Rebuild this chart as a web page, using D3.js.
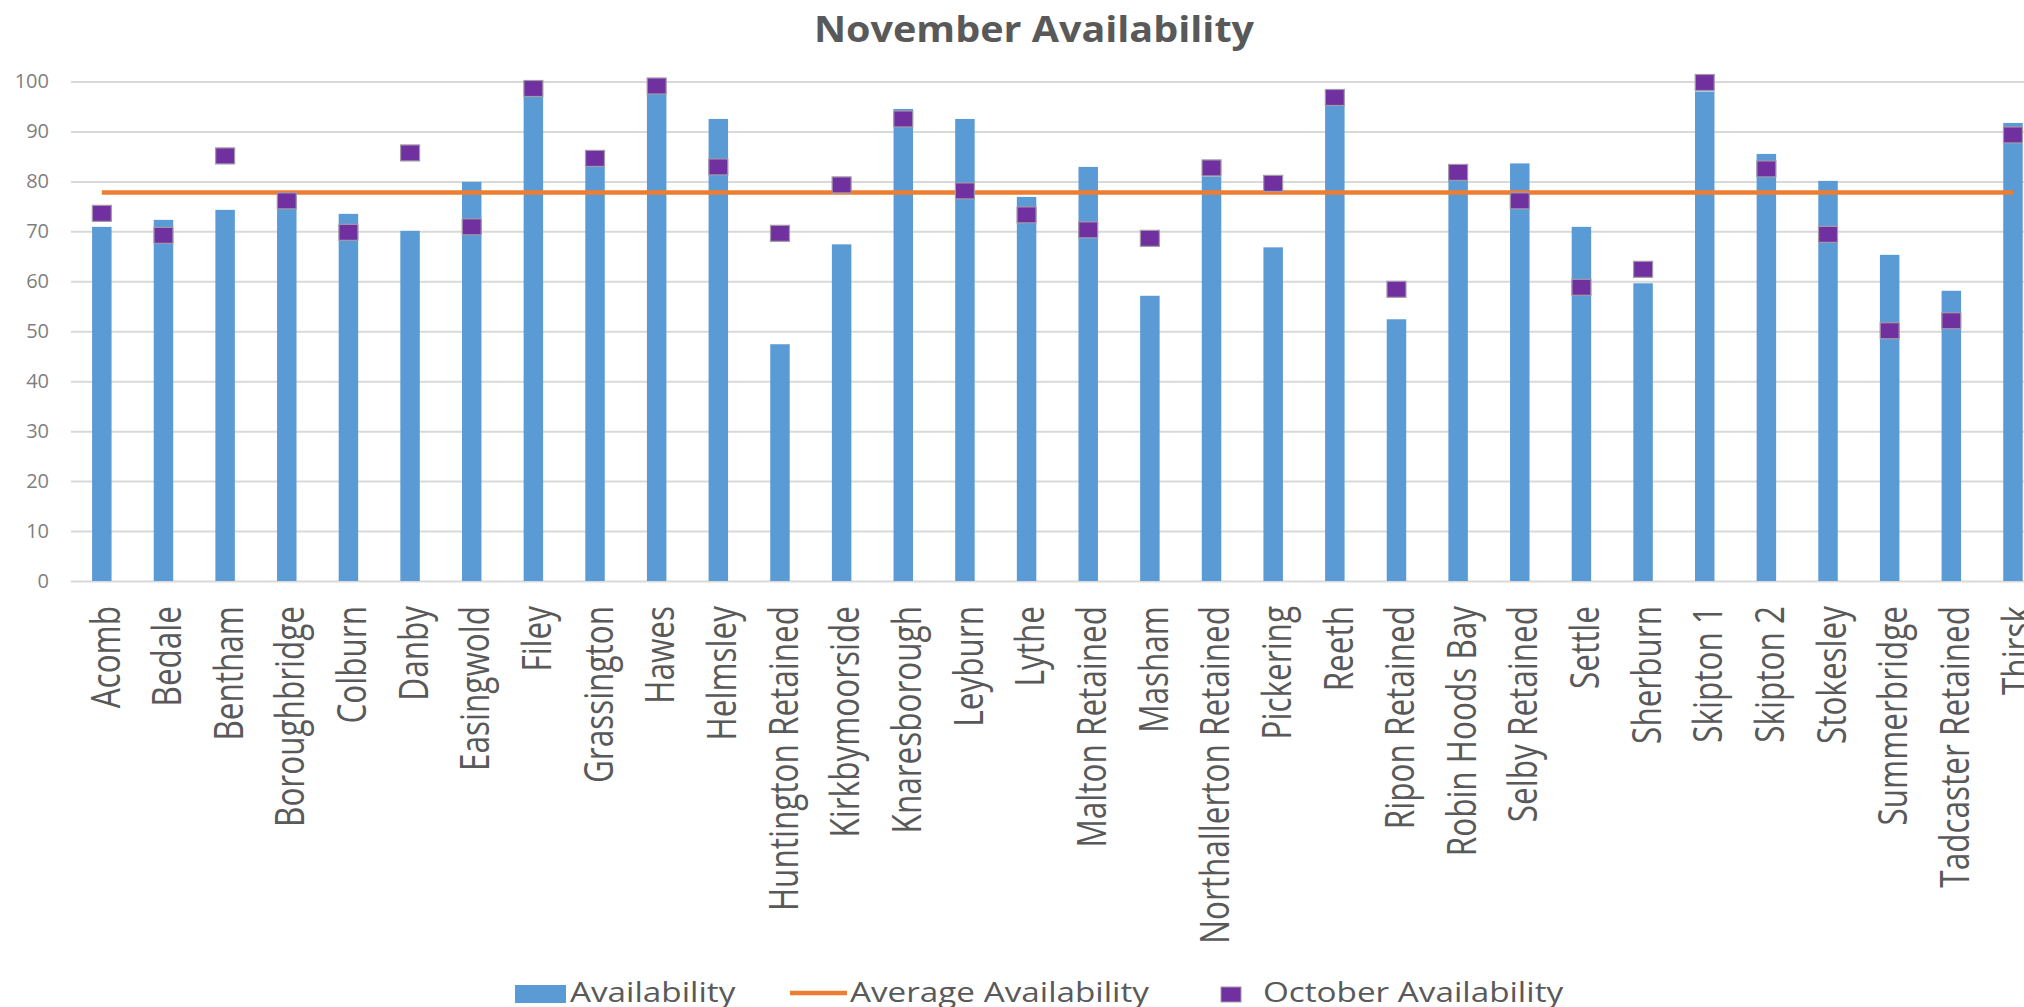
<!DOCTYPE html>
<html>
<head>
<meta charset="utf-8">
<script src="https://cdn.jsdelivr.net/npm/d3@7"></script>
<style>
  html, body { margin: 0; padding: 0; background: #fff; }
  svg { display: block; font-family: "Open Sans", sans-serif; }
</style>
</head>
<body>
<div id="chart"></div>
<script>
const categories = ["Acomb", "Bedale", "Bentham", "Boroughbridge", "Colburn", "Danby", "Easingwold", "Filey",
  "Grassington", "Hawes", "Helmsley", "Huntington Retained", "Kirkbymoorside", "Knaresborough", "Leyburn",
  "Lythe", "Malton Retained", "Masham", "Northallerton Retained", "Pickering", "Reeth", "Ripon Retained",
  "Robin Hoods Bay", "Selby Retained", "Settle", "Sherburn", "Skipton 1", "Skipton 2", "Stokesley",
  "Summerbridge", "Tadcaster Retained", "Thirsk"];

const availability = [70.9, 72.3, 74.3, 77.6, 73.5, 70.1, 79.9, 97.2, 83.2, 97.5, 92.5, 47.4, 67.4, 94.5, 92.5,
  76.9, 82.9, 57.1, 81.0, 66.8, 95.5, 52.4, 80.5, 83.6, 70.9, 59.6, 98.0, 85.5, 80.1, 65.3, 58.1, 91.7];

const octoberAvailability = [73.6, 69.2, 85.1, 76.1, 69.8, 85.7, 70.9, 98.6, 84.6, 99.1, 82.9, 69.6, 79.3, 92.5, 78.1,
  73.3, 70.3, 68.6, 82.7, 79.6, 96.8, 58.4, 81.8, 76.1, 58.8, 62.4, 99.8, 82.5, 69.4, 50.1, 52.1, 89.3];

const averageAvailability = 77.8;

const yTicks = [0, 10, 20, 30, 40, 50, 60, 70, 80, 90, 100];
const legendItems = ["Availability", "Average Availability", "October Availability"];

const width = 2024;
const height = 1007;
const stretch = 1.25; // the source image is a bit wider than its text

const svg = d3.select("#chart")
  .append("svg")
  .attr("width", width)
  .attr("height", height);

const plotLeft = 71;
const step = 61.65;

const x = d3.scaleBand()
  .domain(categories)
  .range([plotLeft, plotLeft + categories.length * step])
  .paddingInner(0.684)
  .paddingOuter(0.342);

const y = d3.scaleLinear()
  .domain([0, 100])
  .range([581, 81.5]);

// title
svg.append("text")
  .attr("x", 1034)
  .attr("y", 42)
  .attr("text-anchor", "middle")
  .attr("font-size", 36)
  .attr("font-weight", "bold")
  .attr("fill", "#595959")
  .attr("textLength", 440)
  .attr("lengthAdjust", "spacingAndGlyphs")
  .text("November Availability");

// y axis + gridlines
const yAxis = svg.append("g")
  .attr("transform", `translate(${plotLeft},0)`)
  .call(d3.axisLeft(y).tickValues(yTicks).tickSize(-(width - plotLeft)).tickPadding(22));

yAxis.select(".domain").remove();
yAxis.selectAll(".tick line")
  .attr("stroke", "#d9d9d9")
  .attr("stroke-width", 2);
yAxis.selectAll(".tick text")
  .attr("font-size", 20)
  .attr("font-family", "Open Sans, sans-serif")
  .attr("fill", "#7f7f7f");

// x axis labels
const xAxis = svg.append("g")
  .attr("transform", `translate(0,${y(0)})`)
  .call(d3.axisBottom(x).tickSize(0));

xAxis.select(".domain").remove();
xAxis.selectAll(".tick text")
  .attr("y", null)
  .attr("dy", "0.45em")
  .attr("text-anchor", "end")
  .attr("font-size", 31.5)
  .attr("font-family", "Open Sans, sans-serif")
  .attr("fill", "#595959")
  .attr("transform", `translate(0,25) scale(${stretch},1) rotate(-90)`);

// bars
svg.selectAll(".bar")
  .data(categories)
  .enter()
  .append("rect")
  .attr("class", "bar")
  .attr("x", d => x(d))
  .attr("width", x.bandwidth())
  .attr("y", (d, i) => y(availability[i]))
  .attr("height", (d, i) => y(0) - y(availability[i]))
  .attr("fill", "#5b9bd5");

// average line
const avgLine = d3.line()
  .x(d => x(d) + x.bandwidth() / 2)
  .y(() => y(averageAvailability));

svg.append("path")
  .datum(categories)
  .attr("d", avgLine)
  .attr("fill", "none")
  .attr("stroke", "#ed7d31")
  .attr("stroke-width", 4.5);

// october markers
const mW = 19, mH = 16;
svg.selectAll(".marker")
  .data(categories)
  .enter()
  .append("rect")
  .attr("class", "marker")
  .attr("x", d => x(d) + x.bandwidth() / 2 - mW / 2)
  .attr("y", (d, i) => y(octoberAvailability[i]) - mH / 2)
  .attr("width", mW)
  .attr("height", mH)
  .attr("fill", "#7030a0")
  .attr("stroke", "#a39aa8")
  .attr("stroke-width", 1.2);

// legend
const legend = svg.append("g");
const legendY = 1002;

legend.append("rect")
  .attr("x", 515).attr("y", 985)
  .attr("width", 51).attr("height", 18)
  .attr("fill", "#5b9bd5");

legend.append("line")
  .attr("x1", 790).attr("x2", 847)
  .attr("y1", 993).attr("y2", 993)
  .attr("stroke", "#ed7d31")
  .attr("stroke-width", 4.5);

legend.append("rect")
  .attr("x", 1221).attr("y", 987)
  .attr("width", 20).attr("height", 15)
  .attr("fill", "#7030a0")
  .attr("stroke", "#a39aa8")
  .attr("stroke-width", 1);

const legendTextX = [570, 850, 1263];
legendItems.forEach((label, i) => {
  legend.append("text")
    .attr("transform", `translate(${legendTextX[i]},${legendY}) scale(${stretch},1)`)
    .attr("font-size", 26.6)
    .attr("fill", "#595959")
    .text(label);
});
</script>
</body>
</html>
